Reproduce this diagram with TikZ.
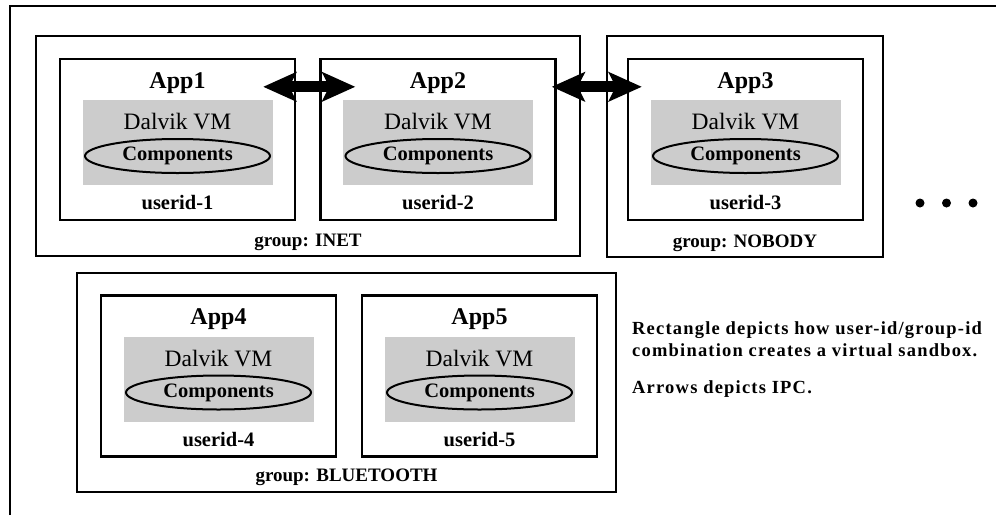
\documentclass[tikz,border=0pt]{standalone}
\usepackage{fontspec}
\setmainfont{Liberation Serif}
\newfontfamily\notefont{Liberation Serif}[LetterSpace=6.5]
\usetikzlibrary{arrows.meta,calc,shapes.geometric}
\definecolor{vmgray}{HTML}{CCCCCC}
\tikzset{
  grpbox/.style={draw, line width=2.4pt, minimum width=#1},
  appbox/.style={draw, line width=2.4pt, minimum width=235pt, minimum height=161pt, inner sep=0pt},
  vmbox/.style={fill=vmgray, minimum width=190pt, minimum height=85pt, inner sep=0pt},
  compell/.style={draw, ellipse, line width=2pt, minimum width=185pt, minimum height=34pt, inner sep=0pt, font=\fontsize{20.5}{22}\selectfont\bfseries},
  apptitle/.style={font=\fontsize{24}{26}\selectfont\bfseries, inner sep=0pt},
  vmlabel/.style={font=\fontsize{23.5}{25}\selectfont, inner sep=0pt},
  uidlabel/.style={font=\fontsize{20.5}{22}\selectfont\bfseries, inner sep=0pt},
  grplabel/.style={font=\fontsize{19}{21}\selectfont\bfseries, inner sep=0pt},
  notelabel/.style={font=\notefont\fontsize{18.5}{20}\selectfont\bfseries, inner sep=0pt, anchor=base west},
  ipc/.style={line width=11pt, {Stealth[length=33pt,width=29pt,inset=7pt]}-{Stealth[length=33pt,width=29pt,inset=7pt]}},
  dot/.style={circle, fill=black, minimum size=9pt, inner sep=0pt}
}
\newcommand{\appunit}[3]{%
  \node[appbox] (#1) at (#2) {};
  \node[vmbox] (#1vm) at ($(#1.center)+(0,3)$) {};
  \node[apptitle] (#1title) at ($(#1.center)+(0,-56.5)$) {App#3};
  \node[vmlabel] (#1dvm) at ($(#1.center)+(0,-17.5)$) {Dalvik VM};
  \node[compell] (#1comp) at ($(#1.center)+(0,16.5)$) {Components};
  \node[uidlabel] (#1uid) at ($(#1.center)+(0,63.5)$) {userid-#3};
}
\begin{document}
\begin{tikzpicture}[x=1pt,y=-1pt]
\useasboundingbox (0,0) rectangle (996,515);
% outer frame (only top and left edges visible)
\coordinate (fbl) at (10,515);
\coordinate (ftl) at (10,6);
\coordinate (ftr) at (996,6);
\draw[line width=2pt] (fbl) -- (ftl) -- (ftr);

% group boxes
\node[grpbox=544pt, minimum height=220pt] (inet) at (308,146) {};
\node[grpbox=276pt, minimum height=221pt] (nobody) at (745,146.5) {};
\node[grpbox=539pt, minimum height=219pt] (bt) at (346.5,382.5) {};

% apps
\appunit{app1}{177.5,139.5}{1}
\appunit{app2}{438,139.5}{2}
\appunit{app3}{745.5,139.5}{3}
\appunit{app4}{218.5,376}{4}
\appunit{app5}{479.5,376}{5}

% group labels
\node[grplabel] (inetl) at ($(inet.south)+(0,-15)$) {group: INET};
\node[grplabel] (nobodyl) at ($(nobody.south)+(0,-15)$) {group: NOBODY};
\node[grplabel] (btl) at ($(bt.south)+(0,-16)$) {group: BLUETOOTH};

% IPC arrows
\coordinate (i1a) at ($(app1.north east)+(-33,29)$);
\coordinate (i1b) at ($(app2.north west)+(36,29)$);
\coordinate (i2a) at ($(app2.north east)+(-5,29)$);
\coordinate (i2b) at ($(app3.north west)+(15,29)$);
\draw[ipc] (i1a) -- (i1b);
\draw[ipc] (i2a) -- (i2b);

% ellipsis dots
\node[dot] (d1) at (920,203) {};
\node[dot] (d2) at (946.5,203) {};
\node[dot] (d3) at (973,203) {};

% notes
\node[notelabel] (n1) at (632,334) {Rectangle depicts how user-id/group-id};
\node[notelabel] (n2) at (632,356) {combination creates a virtual sandbox.};
\node[notelabel] (n3) at (632,393) {Arrows depicts IPC.};
\end{tikzpicture}
\end{document}
